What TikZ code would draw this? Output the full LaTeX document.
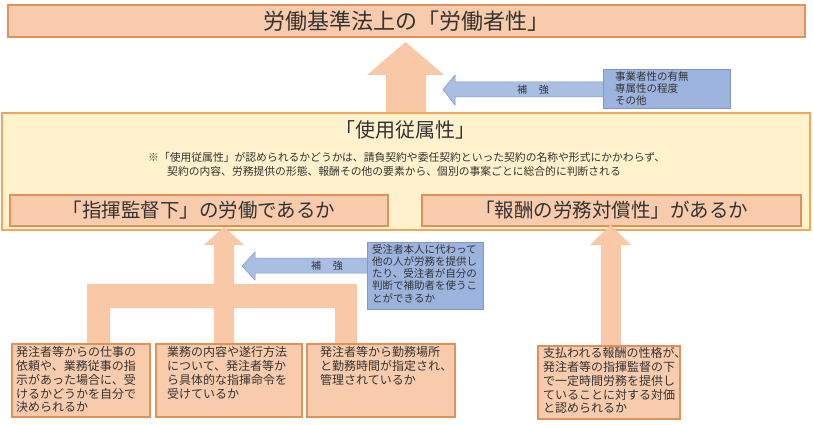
\documentclass[tikz,border=0pt]{standalone}
\usepackage{fontspec}
\setmainfont{Noto Sans CJK JP}
\definecolor{peach}{HTML}{F8CBAD}
\definecolor{peachline}{HTML}{E0915A}
\definecolor{arrowc}{HTML}{F9C8A6}
\definecolor{yelfill}{HTML}{FFF2CC}
\definecolor{yelline}{HTML}{F2A65A}
\definecolor{bluefill}{HTML}{9CB3DE}
\definecolor{blueline}{HTML}{7F98C8}
\definecolor{bluearrow}{HTML}{A9BEE2}
\definecolor{txt}{HTML}{333333}
\begin{document}
\begin{tikzpicture}[x=1pt,y=-1pt,
  peachbox/.style={draw=peachline,fill=peach,line width=1.1pt},
  bluebox/.style={draw=blueline,fill=bluefill,line width=0.8pt},
  blockarrow/.style={fill=arrowc,draw=none},
  bluearr/.style={fill=bluearrow,draw=blueline,line width=0.5pt},
  btext/.style={text=txt,font=\fontsize{12}{13.9}\selectfont,align=left,inner sep=0pt,anchor=north west},
  stext/.style={text=txt,font=\fontsize{10.5}{12.3}\selectfont,align=left,inner sep=0pt,anchor=north west},
  lbl/.style={text=txt,font=\fontsize{10}{12}\selectfont,inner sep=0pt}]
\useasboundingbox (0,0) rectangle (813,425);
\fill[white] (0,0) rectangle (813,425);
% top box
\node[peachbox,minimum width=797pt,minimum height=32pt,inner sep=0pt] (top) at (406.5,21)
  {\color{txt}\fontsize{22}{26}\selectfont 労働基準法上の「労働者性」};
% big up arrow
\fill[blockarrow] (386,113) -- (386,75) -- (367,75) -- (405.5,42) -- (444,75) -- (426,75) -- (426,113) -- cycle;
% blue top arrow and box
\draw[bluearr] (603,82) -- (455,82) -- (455,75) -- (443,89.5) -- (455,105) -- (455,97) -- (603,97);
\node[lbl] (hk1) at (533,89.5) {補\hspace{1.2em}強};
\node[bluebox,minimum width=127pt,minimum height=39pt,inner sep=0pt] (b1) at (666.5,88.5) {};
\node[stext] (b1t) at (615,71) {事業者性の有無\\専属性の程度\\その他};
% yellow box
\node[draw=yelline,fill=yelfill,line width=1.2pt,minimum width=808pt,minimum height=117pt,inner sep=0pt] (yel) at (406,171.5) {};
\node[text=txt,font=\fontsize{20}{24}\selectfont,inner sep=0pt] (sj) at (405,130) {「使用従属性」};
\node[text=txt,font=\fontsize{10.8}{13}\selectfont,inner sep=0pt,anchor=west] (n1) at (148,157) {※「使用従属性」が認められるかどうかは、請負契約や委任契約といった契約の名称や形式にかかわらず、};
\node[text=txt,font=\fontsize{10.8}{13}\selectfont,inner sep=0pt,anchor=west] (n2) at (167,171) {契約の内容、労務提供の形態、報酬その他の要素から、個別の事案ごとに総合的に判断される};
\node[peachbox,minimum width=378pt,minimum height=31pt,inner sep=0pt] (l) at (199,210.5)
  {\color{txt}\fontsize{19.5}{23}\selectfont 「指揮監督下」の労働であるか};
\node[peachbox,minimum width=379pt,minimum height=31pt,inner sep=0pt] (r) at (611.5,210.5)
  {\color{txt}\fontsize{19.5}{23}\selectfont 「報酬の労務対償性」があるか};
% left arrow structure
\fill[blockarrow] (87,344) -- (87,284) -- (214,284) -- (214,245) -- (204,245) -- (224,227) -- (244,245) -- (234,245)
  -- (234,284) -- (357,284) -- (357,344) -- (335,344) -- (335,308) -- (234,308) -- (234,344) -- (214,344)
  -- (214,308) -- (110,308) -- (110,344) -- cycle;
% right arrow
\fill[blockarrow] (601,346) -- (601,245) -- (590,245) -- (610.5,225) -- (631,245) -- (621,245) -- (621,346) -- cycle;
% blue middle arrow and box
\draw[bluearr] (367,258) -- (255,258) -- (255,252) -- (242,266) -- (255,280) -- (255,273) -- (367,273);
\node[lbl] (hk2) at (327,266) {補\hspace{1.2em}強};
\node[bluebox,minimum width=116pt,minimum height=67pt,inner sep=0pt] (b2) at (425,275.5) {};
\node[stext] (b2t) at (372,244) {受注者本人に代わって\\他の人が労務を提供し\\たり、受注者が自分の\\判断で補助者を使うこ\\とができるか};
% bottom boxes
\node[peachbox,minimum width=138pt,minimum height=73pt,inner sep=0pt] (c1) at (81,380.5) {};
\node[btext] (c1t) at (16,346) {発注者等からの仕事の\\依頼や、業務従事の指\\示があった場合に、受\\けるかどうかを自分で\\決められるか};
\node[peachbox,minimum width=146pt,minimum height=73pt,inner sep=0pt] (c2) at (229,380.5) {};
\node[btext] (c2t) at (167,346) {業務の内容や遂行方法\\について、発注者等か\\ら具体的な指揮命令を\\受けているか};
\node[peachbox,minimum width=148pt,minimum height=73pt,inner sep=0pt] (c3) at (381,380.5) {};
\node[btext] (c3t) at (320,346) {発注者等から勤務場所\\と勤務時間が指定され、\\管理されているか};
\node[peachbox,minimum width=142pt,minimum height=73pt,inner sep=0pt] (c4) at (609,382.5) {};
\node[btext] (c4t) at (543,347) {支払われる報酬の性格が、\\発注者等の指揮監督の下\\で一定時間労務を提供し\\ていることに対する対価\\と認められるか};
\end{tikzpicture}
\end{document}
